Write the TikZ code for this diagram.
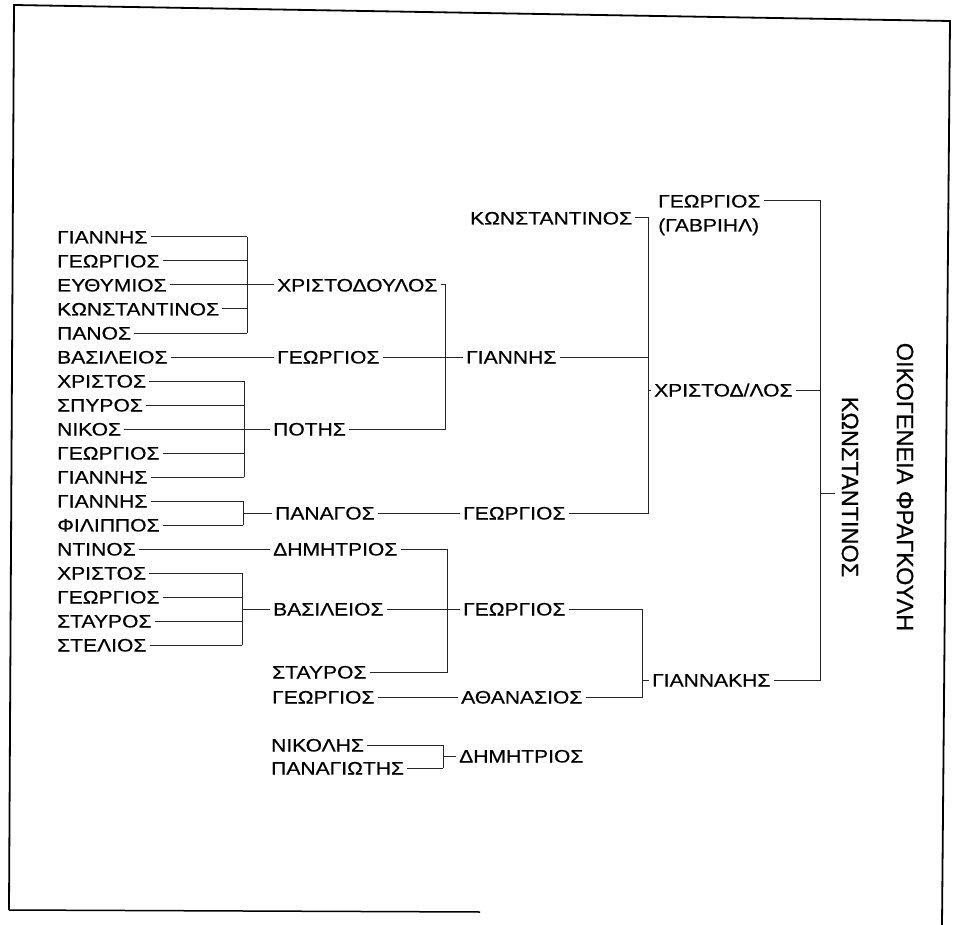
\documentclass[tikz,border=0pt]{standalone}
\usepackage{fontspec}
\setmainfont[FakeStretch=1.17,FakeBold=0.5]{Liberation Sans}
\newfontfamily\titlefont[FakeBold=0.5]{Liberation Sans}
\usetikzlibrary{positioning,calc}

\begin{document}
\begin{tikzpicture}[x=1pt,y=-1pt,
  person/.style={anchor=west,inner xsep=3pt,inner ysep=0pt,text height=13pt,text depth=0pt,
    font=\fontsize{18}{21}\selectfont},
  ln/.style={line width=1pt,black!85},
  title/.style={rotate=-90,inner sep=0pt,font=\titlefont\fontsize{23.5}{28}\selectfont}]
\useasboundingbox (0,0) rectangle (953,925);
% frame of the scanned page
\draw[line width=1.8pt] (9,910) -- (14,5) -- (950,21) -- (942,925);
\draw[line width=1.5pt] (9,910) -- (480,912);

% oldest generation, first column
\foreach \who [count=\i] in {ΓΙΑΝΝΗΣ,ΓΕΩΡΓΙΟΣ,ΕΥΘΥΜΙΟΣ,ΚΩΝΣΤΑΝΤΙΝΟΣ,ΠΑΝΟΣ,ΒΑΣΙΛΕΙΟΣ,
    ΧΡΙΣΤΟΣ,ΣΠΥΡΟΣ,ΝΙΚΟΣ,ΓΕΩΡΓΙΟΣ,ΓΙΑΝΝΗΣ,ΓΙΑΝΝΗΣ,ΦΙΛΙΠΠΟΣ,ΝΤΙΝΟΣ,
    ΧΡΙΣΤΟΣ,ΓΕΩΡΓΙΟΣ,ΣΤΑΥΡΟΣ,ΣΤΕΛΙΟΣ}
  \node[person] (l\i) at (54,{213+24*\i}) {\who};

% second column
\node[person] (xr) at (274,285) {ΧΡΙΣΤΟΔΟΥΛΟΣ};
\node[person] (ge) at (274,357) {ΓΕΩΡΓΙΟΣ};
\node[person] (po) at (270,429) {ΠΟΤΗΣ};
\node[person] (pa) at (272,513) {ΠΑΝΑΓΟΣ};
\node[person] (dh) at (270,549) {ΔΗΜΗΤΡΙΟΣ};
\node[person] (va) at (270,609) {ΒΑΣΙΛΕΙΟΣ};
\node[person] (st) at (269,672) {ΣΤΑΥΡΟΣ};
\node[person] (gb) at (269,697) {ΓΕΩΡΓΙΟΣ};
\node[person] (ni) at (268,745) {ΝΙΚΟΛΗΣ};
\node[person] (pn) at (268,768) {ΠΑΝΑΓΙΩΤΗΣ};

% third column
\node[person] (kw) at (467,218) {ΚΩΝΣΤΑΝΤΙΝΟΣ};
\node[person] (gi) at (463,357) {ΓΙΑΝΝΗΣ};
\node[person] (gp) at (460,513) {ΓΕΩΡΓΙΟΣ};
\node[person] (gv) at (460,609) {ΓΕΩΡΓΙΟΣ};
\node[person] (at) at (458,697) {ΑΘΑΝΑΣΙΟΣ};
\node[person] (dm) at (456,756) {ΔΗΜΗΤΡΙΟΣ};

% fourth column
\node[person] (gg) at (655,201) {ΓΕΩΡΓΙΟΣ};
\node[person] (ga) at (655,225) {(ΓΑΒΡΙΗΛ)};
\node[person] (xd) at (651,390) {ΧΡΙΣΤΟΔ/ΛΟΣ};
\node[person] (gk) at (649,680) {ΓΙΑΝΝΑΚΗΣ};

% the family, written upright
\node[title] (kn) at (850,487) {ΚΩΝΣΤΑΝΤΙΝΟΣ};
\node[title] (fam) at (905,487) {ΟΙΚΟΓΕΝΕΙΑ ΦΡΑΓΚΟΥΛΗ};

% bracket columns
\coordinate (j1) at (247,0);
\coordinate (j2) at (244,0);
\coordinate (j3) at (243,0);
\coordinate (j4) at (242,0);
\coordinate (j5) at (445,0);
\coordinate (j6) at (447,0);
\coordinate (j7) at (443,0);
\coordinate (j8) at (648,0);
\coordinate (j9) at (642,0);
\coordinate (j10) at (820,0);
\coordinate (kt) at (835,493);

% first column to second
\foreach \i in {1,2,4,5} \draw[ln] (l\i.east) -- (l\i.east -| j1);
\draw[ln] (l1.east -| j1) -- (l5.east -| j1);
\draw[ln] (l3.east) -- (xr.west);
\draw[ln] (l6.east) -- (ge.west);
\foreach \i in {7,8,10,11} \draw[ln] (l\i.east) -- (l\i.east -| j2);
\draw[ln] (l7.east -| j2) -- (l11.east -| j2);
\draw[ln] (l9.east) -- (po.west);
\foreach \i in {12,13} \draw[ln] (l\i.east) -- (l\i.east -| j3);
\draw[ln] (l12.east -| j3) -- (l13.east -| j3);
\draw[ln] (pa.west -| j3) -- (pa.west);
\draw[ln] (l14.east) -- (dh.west);
\foreach \i in {15,...,18} \draw[ln] (l\i.east) -- (l\i.east -| j4);
\draw[ln] (l15.east -| j4) -- (l18.east -| j4);
\draw[ln] (va.west -| j4) -- (va.west);

% second column to third
\draw[ln] (xr.east) -- (xr.east -| j5) -- (po.east -| j5) -- (po.east);
\draw[ln] (ge.east) -- (gi.west);
\draw[ln] (pa.east) -- (gp.west);
\draw[ln] (dh.east) -- (dh.east -| j6) -- (st.east -| j6) -- (st.east);
\draw[ln] (va.east) -- (gv.west);
\draw[ln] (gb.east) -- (at.west);
\foreach \n in {ni,pn} \draw[ln] (\n.east) -- (\n.east -| j7);
\draw[ln] (ni.east -| j7) -- (pn.east -| j7);
\draw[ln] (dm.west -| j7) -- (dm.west);

% third column to fourth
\draw[ln] (kw.east) -- (kw.east -| j8) -- (gp.east -| j8) -- (gp.east);
\draw[ln] (gi.east) -- (gi.east -| j8);
\draw[ln] (xd.west -| j8) -- (xd.west);
\draw[ln] (gv.east) -- (gv.east -| j9) -- (at.east -| j9) -- (at.east);
\draw[ln] (gk.west -| j9) -- (gk.west);

% fourth column to the family
\draw[ln] (gg.east) -- (gg.east -| j10) -- (gk.east -| j10) -- (gk.east);
\draw[ln] (xd.east) -- (xd.east -| j10);
\draw[ln] (kt -| j10) -- (kt);
\end{tikzpicture}
\end{document}
